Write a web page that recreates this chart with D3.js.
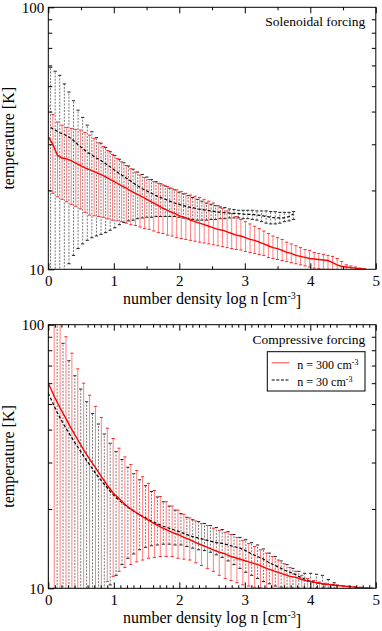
<!DOCTYPE html>
<html>
<head>
<meta charset="utf-8">
<script src="https://cdn.jsdelivr.net/npm/d3@7"></script>
<style>
body { margin: 0; background: #fff; }
</style>
</head>
<body>
<svg width="382" height="631"></svg>
<script>
var FONT = "'Liberation Serif', 'DejaVu Serif', serif";

// ---- Solenoidal forcing, n = 300 cm^-3 (red) ----
var solN300 = [0.00,0.07,0.14,0.21,0.28,0.35,0.42,0.49,0.56,0.63,
               0.70,0.77,0.84,0.91,0.98,1.05,1.12,1.19,1.26,1.33,
               1.40,1.47,1.54,1.61,1.68,1.75,1.82,1.89,1.96,2.03,
               2.10,2.17,2.24,2.31,2.38,2.45,2.52,2.59,2.66,2.73,
               2.80,2.87,2.94,3.01,3.08,3.15,3.22,3.29,3.36,3.43,
               3.50,3.57,3.64,3.71,3.78,3.85,3.92,3.99,4.06,4.13,
               4.20,4.27,4.34,4.41,4.48,4.55,4.62,4.69,4.76,4.83];
var solT300 = [32.0,30.0,27.2,26.6,26.4,26.0,25.4,24.9,24.4,24.0,
               23.6,23.2,22.8,22.3,21.8,21.3,20.8,20.4,19.9,19.5,
               19.1,18.7,18.3,17.9,17.5,17.1,16.8,16.5,16.2,15.9,
               15.7,15.4,15.2,15.0,14.8,14.6,14.4,14.2,14.1,13.9,
               13.7,13.5,13.4,13.2,13.0,12.9,12.7,12.5,12.3,12.1,
               12.0,11.8,11.6,11.5,11.3,11.2,11.1,11.0,10.95,10.9,
               10.85,10.8,10.6,10.4,10.25,10.2,10.15,10.1,10.05,10.0];
var solHi300 = [42,39,36.5,35.5,34.8,34.5,34.2,34.0,33.3,32.5,
                31.5,30.4,29.4,28.4,27.4,26.5,25.7,24.9,24.2,23.5,
                22.9,22.4,22.0,21.6,21.3,21.0,20.7,20.4,20.1,19.8,
                19.5,19.2,19.0,18.8,18.5,18.2,17.9,17.5,17.1,16.7,
                16.3,15.9,15.5,15.2,14.9,14.6,14.3,14.0,13.7,13.4,
                13.2,13.0,12.7,12.5,12.3,12.1,11.9,11.8,11.6,11.5,
                11.4,11.3,11.2,11.0,10.7,10.4,10.3,10.2,10.1,10.05];
var solLo300 = [20.0,19.5,18.9,18.5,18.1,17.7,17.4,17.0,16.5,16.1,
                16.0,15.9,15.8,15.6,15.4,15.3,15.2,15.0,14.8,14.7,
                14.5,14.3,14.2,14.0,13.8,13.7,13.5,13.4,13.2,13.1,
                13.0,12.9,12.8,12.7,12.6,12.5,12.4,12.3,12.2,12.1,
                12.0,11.9,11.85,11.7,11.6,11.5,11.4,11.3,11.1,11.0,
                10.9,10.8,10.7,10.6,10.5,10.4,10.3,10.2,10.1,10.05,
                10.0,10.0,9.95,9.95,9.9,9.9,9.9,9.9,9.9,9.9];

// ---- Solenoidal forcing, n = 30 cm^-3 (black) ----
var solN30 = [0.035,0.105,0.175,0.245,0.315,0.385,0.455,0.525,0.595,0.665,
              0.735,0.805,0.875,0.945,1.015,1.085,1.155,1.225,1.295,1.365,
              1.435,1.505,1.575,1.645,1.715,1.785,1.855,1.925,1.995,2.065,
              2.135,2.205,2.275,2.345,2.415,2.485,2.555,2.625,2.695,2.765,
              2.835,2.905,2.975,3.045,3.115,3.185,3.255,3.325,3.395,3.465,
              3.535,3.605,3.675,3.745];
var solT30 = [34.8,34.0,33.2,32.7,32.0,31.0,29.9,28.9,28.0,27.3,
              26.6,26.0,25.3,24.6,23.9,23.2,22.6,22.0,21.4,20.8,
              20.3,19.9,19.5,19.1,18.8,18.5,18.2,17.9,17.7,17.5,
              17.3,17.2,17.0,16.9,16.8,16.7,16.6,16.5,16.45,16.4,
              16.35,16.3,16.25,16.2,16.2,16.1,16.05,15.9,15.8,15.7,
              15.7,15.7,15.9,16.3];
var solHi30 = [59,57,55,51,47.5,44,40.5,38,35.5,33.5,
               31.8,30.3,29.2,28.1,27.2,26.3,25.5,24.8,24.1,23.5,
               23.0,22.5,22.0,21.6,21.2,20.8,20.4,20.1,19.7,19.4,
               19.1,18.8,18.5,18.2,17.9,17.7,17.5,17.3,17.2,17.0,
               16.9,16.8,16.8,16.8,16.8,16.7,16.7,16.7,16.6,16.6,
               16.5,16.5,16.5,16.6];
var solLo30 = [9.0,9.2,9.5,9.9,10.5,11.3,12.0,12.5,12.9,13.2,
               13.4,13.6,13.8,14.1,14.4,14.8,15.1,15.3,15.4,15.6,
               15.7,15.8,15.8,15.9,15.9,15.9,15.9,15.9,15.8,15.7,
               15.6,15.5,15.4,15.4,15.4,15.5,15.5,15.6,15.6,15.7,
               15.7,15.7,15.6,15.6,15.5,15.4,15.2,15.0,14.9,14.9,
               15.0,15.2,15.3,15.5];

// ---- Compressive forcing, n = 300 cm^-3 (red) ----
var comN300 = [0.00,0.09,0.18,0.27,0.36,0.45,0.54,0.63,0.72,0.81,
               0.90,0.99,1.08,1.17,1.26,1.35,1.44,1.53,1.62,1.71,
               1.80,1.89,1.98,2.07,2.16,2.25,2.34,2.43,2.52,2.61,
               2.70,2.79,2.88,2.97,3.06,3.15,3.24,3.33,3.42,3.51,
               3.60,3.69,3.78,3.87,3.96,4.05,4.14,4.23,4.32,4.41,
               4.50,4.59,4.68,4.77,4.86,4.95];
var comT300 = [60.0,53.5,48.3,44.0,40.0,36.6,33.5,30.9,28.7,26.5,
               24.6,23.0,21.9,20.8,20.0,19.3,18.7,18.1,17.6,17.1,
               16.7,16.3,16.0,15.6,15.3,14.9,14.6,14.3,14.0,13.7,
               13.5,13.2,13.0,12.8,12.6,12.4,12.2,11.9,11.7,11.5,
               11.3,11.1,11.0,10.8,10.65,10.55,10.45,10.35,10.3,10.25,
               10.2,10.15,10.1,10.05,10.0,10.0];
var comHi300 = [150,140,105,90,78,68,60,54,49,44.5,
                40.5,37,34,31.5,29.5,28,26.5,25,23.5,22.3,
                21.3,20.5,19.8,19.1,18.5,18.0,17.6,17.3,16.9,16.6,
                16.3,16.0,15.6,15.2,14.8,14.4,14.0,13.6,13.2,12.8,
                12.4,12.0,11.6,11.2,10.9,10.7,10.55,10.45,10.35,10.3,
                10.25,10.2,10.15,10.1,10.05,10.02];
var comLo300 = [5,5,5.5,6,6.5,7,7.5,8,8.8,9.7,
                10.6,11.1,11.6,12.0,12.3,12.6,12.8,13.0,13.1,13.2,
                13.2,13.2,13.0,12.9,12.8,12.5,12.2,11.9,11.6,11.2,
                10.9,10.7,10.5,10.3,10.2,10.1,10.05,10.0,10.0,9.9,
                9.9,9.9,9.9,9.9,9.9,9.9,9.9,9.9,9.9,9.9,
                9.9,9.9,9.9,9.9,9.9,9.9];

// ---- Compressive forcing, n = 30 cm^-3 (black) ----
var comN30 = [0.00,0.135,0.225,0.315,0.405,0.495,0.585,0.675,0.765,0.855,
              0.945,1.035,1.125,1.215,1.305,1.395,1.485,1.575,1.665,1.755,
              1.845,1.935,2.025,2.115,2.205,2.295,2.385,2.475,2.565,2.655,
              2.745,2.835,2.925,3.015,3.105,3.195,3.285,3.375,3.465,3.555,
              3.645,3.735,3.825,3.915,4.005,4.095,4.185,4.275,4.365];
var comT30 = [55.0,46.5,42.3,38.8,35.7,33.0,30.5,28.4,26.4,24.8,
              23.3,22.1,21.1,20.3,19.6,19.0,18.5,18.0,17.6,17.2,
              16.9,16.6,16.3,16.0,15.7,15.5,15.3,15.1,14.9,14.8,
              14.6,14.4,14.2,13.9,13.5,13.2,12.9,12.5,12.2,11.9,
              11.6,11.4,11.1,10.85,10.6,10.5,10.4,10.35,10.3];
var comHi30 = [140,105,85,73,64,57,51,46,42,38.5,
               35.5,33,30.8,28.8,27.2,25.8,24.5,23.3,22.2,21.3,
               20.5,19.8,19.2,18.6,18.2,17.9,17.6,17.3,17.0,16.7,
               16.4,16.0,15.6,15.3,14.9,14.6,14.1,13.6,13.2,12.7,
               12.3,11.9,11.6,11.4,11.4,11.3,11.2,10.8,10.5];
var comLo30 = [5,5,5.5,6,6.5,7,7.5,8,8.8,9.6,
               10.3,11.2,12.3,13.0,13.5,14.0,14.3,14.5,14.6,14.7,
               14.7,14.6,14.6,14.4,14.2,14.0,13.9,13.7,13.4,13.1,
               12.7,12.3,11.9,11.5,11.2,10.9,10.6,10.4,10.2,10.1,
               10.0,10.0,10.0,10.0,10.0,10.0,10.0,10.0,10.0];

// axis ticks
var xMajor = [0, 1, 2, 3, 4, 5];
var xMinorSol = [0.5, 1.5, 2.5, 3.5, 4.5];
var xMinorCom = [0.1,0.2,0.3,0.4,0.6,0.7,0.8,0.9,1.1,1.2,1.3,1.4,1.6,1.7,1.8,1.9,
                 2.1,2.2,2.3,2.4,2.6,2.7,2.8,2.9,3.1,3.2,3.3,3.4,3.6,3.7,3.8,3.9,
                 4.1,4.2,4.3,4.4,4.6,4.7,4.8,4.9];
var yMajor = [10, 100];
var yMinor = [20, 30, 40, 50, 60, 70, 80, 90];
var legendLabels = ["n = 300 cm", "n = 30 cm"];

function main() {
    var svg = d3.select("svg");

    drawPanel(svg, {
        name: "sol", top: 7.3, bottom: 269.3, title: "Solenoidal forcing",
        xMinor: xMinorSol,
        red: { n: solN300, t: solT300, lo: solLo300, hi: solHi300 },
        black: { n: solN30, t: solT30, lo: solLo30, hi: solHi30 },
        legend: false
    });

    drawPanel(svg, {
        name: "com", top: 324.7, bottom: 588.3, title: "Compressive forcing",
        xMinor: xMinorCom,
        red: { n: comN300, t: comT300, lo: comLo300, hi: comHi300 },
        black: { n: comN30, t: comT30, lo: comLo30, hi: comHi30 },
        legend: true
    });

    svg.selectAll('text').attr('font-family', FONT).attr('fill', '#000');
}

function drawBars(g, x, y, s, style) {
    var bars = g.append('g');
    s.n.forEach(function(n, i) {
        var cx = x(n);
        bars.append('line')
            .attr('x1', cx).attr('x2', cx)
            .attr('y1', y(s.lo[i])).attr('y2', y(s.hi[i]))
            .attr('stroke', style.stem)
            .attr('stroke-width', 1)
            .attr('stroke-dasharray', style.dash);
        [s.lo[i], s.hi[i]].forEach(function(v) {
            bars.append('line')
                .attr('x1', cx - 1.6).attr('x2', cx + 1.6)
                .attr('y1', y(v)).attr('y2', y(v))
                .attr('stroke', style.cap)
                .attr('stroke-width', 1);
        });
    });
}

function drawPanel(svg, p) {
    var x = d3.scaleLinear().domain([0, 5]).range([48.3, 375.8]);
    var y = d3.scaleLog().domain([10, 100]).range([p.bottom, p.top]);

    var g = svg.append('g');
    var clipId = 'clip-' + p.name;
    svg.append('defs').append('clipPath').attr('id', clipId)
        .append('rect')
        .attr('x', x(0)).attr('y', y(100))
        .attr('width', x(5) - x(0)).attr('height', y(10) - y(100));

    var plot = g.append('g').attr('clip-path', 'url(#' + clipId + ')');

    // error bars: black (dotted grey) first, red on top
    drawBars(plot, x, y, p.black, { stem: '#777', cap: '#222', dash: '2,1.3' });
    drawBars(plot, x, y, p.red, { stem: '#ff8080', cap: '#ff2a2a', dash: null });

    var line = function(s) {
        return d3.line()
            .x(function(d, i) { return x(s.n[i]); })
            .y(function(d) { return y(d); })(s.t);
    };

    plot.append('path')
        .attr('d', line(p.black))
        .attr('fill', 'none')
        .attr('stroke', '#000')
        .attr('stroke-width', 1.2)
        .attr('stroke-dasharray', '3,2');

    plot.append('path')
        .attr('d', line(p.red))
        .attr('fill', 'none')
        .attr('stroke', '#ff0000')
        .attr('stroke-width', 1.4);

    // frame
    g.append('rect')
        .attr('x', x(0)).attr('y', y(100))
        .attr('width', x(5) - x(0)).attr('height', y(10) - y(100))
        .attr('fill', 'none').attr('stroke', '#000').attr('stroke-width', 1);

    var clean = function(sel) {
        sel.select('.domain').remove();
        sel.attr('font-family', null).attr('font-size', null);
        sel.selectAll('text').style('font-size', '15px');
    };

    // x axis bottom, labels + inward ticks
    g.append('g').attr('transform', 'translate(0,' + y(10) + ')')
        .call(d3.axisBottom(x).tickValues(xMajor).tickSize(-6).tickPadding(6).tickFormat(d3.format('d')))
        .call(clean);
    g.append('g').attr('transform', 'translate(0,' + y(10) + ')')
        .call(d3.axisBottom(x).tickValues(p.xMinor).tickSize(-3).tickFormat(''))
        .call(clean);
    // x axis top mirror
    g.append('g').attr('transform', 'translate(0,' + y(100) + ')')
        .call(d3.axisTop(x).tickValues(xMajor).tickSize(-6).tickFormat(''))
        .call(clean);
    g.append('g').attr('transform', 'translate(0,' + y(100) + ')')
        .call(d3.axisTop(x).tickValues(p.xMinor).tickSize(-3).tickFormat(''))
        .call(clean);

    // y axis left
    g.append('g').attr('transform', 'translate(' + x(0) + ',0)')
        .call(d3.axisLeft(y).tickValues(yMajor).tickSize(-6).tickPadding(4).tickFormat(d3.format('d')))
        .call(clean);
    g.append('g').attr('transform', 'translate(' + x(0) + ',0)')
        .call(d3.axisLeft(y).tickValues(yMinor).tickSize(-4).tickFormat(''))
        .call(clean);
    // y axis right
    g.append('g').attr('transform', 'translate(' + x(5) + ',0)')
        .call(d3.axisRight(y).tickValues(yMinor).tickSize(-4).tickFormat(''))
        .call(clean);

    // axis titles
    var xt = g.append('text')
        .attr('x', (x(0) + x(5)) / 2)
        .attr('y', y(10) + 35)
        .attr('text-anchor', 'middle')
        .style('font-size', '16px');
    xt.append('tspan').text('number density log n [cm');
    xt.append('tspan').attr('dy', '-0.5em').style('font-size', '10px').text('-3');
    xt.append('tspan').attr('dy', '0.5em').text(']');

    g.append('text')
        .attr('transform', 'translate(14,' + ((y(10) + y(100)) / 2) + ') rotate(-90)')
        .attr('text-anchor', 'middle')
        .style('font-size', '16px')
        .text('temperature [K]');

    // panel title
    g.append('text')
        .attr('x', x(5) - 10.5)
        .attr('y', y(100) + 19)
        .attr('text-anchor', 'end')
        .style('font-size', '13.5px')
        .text(p.title);

    if (p.legend) {
        var lg = g.append('g').attr('transform', 'translate(267.3,' + (y(100) + 27) + ')');
        lg.append('rect')
            .attr('width', 97.7).attr('height', 39.3)
            .attr('fill', '#fff').attr('stroke', '#000').attr('stroke-width', 1);
        lg.append('line')
            .attr('x1', 4.4).attr('x2', 22).attr('y1', 11).attr('y2', 11)
            .attr('stroke', '#ff8080').attr('stroke-width', 1.5);
        lg.append('line')
            .attr('x1', 4.4).attr('x2', 22).attr('y1', 28.3).attr('y2', 28.3)
            .attr('stroke', '#000').attr('stroke-width', 1).attr('stroke-dasharray', '3,1.6');
        legendLabels.forEach(function(lab, i) {
            var t = lg.append('text')
                .attr('x', 30).attr('y', 17.5 + i * 17)
                .style('font-size', '12px');
            t.append('tspan').text(lab);
            t.append('tspan').attr('dy', '-0.55em').style('font-size', '8px').text('-3');
        });
    }
}

main();
</script>
</body>
</html>
